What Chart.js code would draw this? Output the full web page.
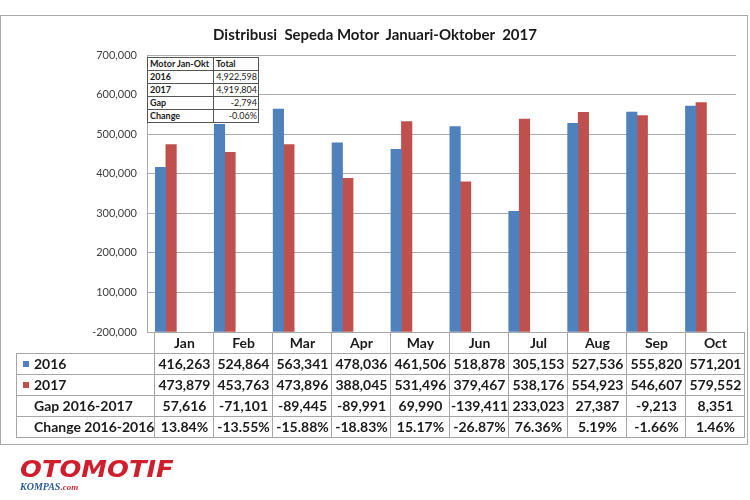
<!DOCTYPE html>
<html>
<head>
<meta charset="utf-8">
<script src="https://cdn.jsdelivr.net/npm/chart.js@4/dist/chart.umd.min.js"></script>
<style>
	html, body { margin: 0; padding: 0; background: #fff; }
	#page { position: relative; width: 750px; height: 500px; overflow: hidden; font-family: Lato, "Open Sans", sans-serif; color: #1a1a1a; }
	#frame { position: absolute; left: 0; top: 15px; width: 746px; height: 428px; border: 1px solid #a9a9a9; }
	#chart-box { position: absolute; left: 0; top: 0; width: 750px; height: 500px; }
	#title { position: absolute; left: 0; width: 750px; top: 25px; text-align: center; font-weight: bold; font-size: 15px; white-space: pre; }
	table { border-collapse: collapse; table-layout: fixed; }
	#summary { position: absolute; left: 147px; top: 57px; width: 112px; background: #fff; font-size: 9px; }
	#summary td { border: 1px solid #555; height: 12px; padding: 0 1px 0 2px; line-height: 12px; white-space: nowrap; }
	#summary td.k { font-weight: bold; width: 62px; }
	#summary td.v { text-align: right; }
	#summary td.h { font-weight: bold; text-align: left; }
	#data-table { position: absolute; left: 16px; top: 332px; font-size: 14px; font-weight: bold; }
	#data-table td { border: 1px solid #a6a6a6; height: 20px; padding: 0; text-align: center; line-height: 20px; white-space: nowrap; }
	#data-table td.lab { text-align: left; padding-left: 17px; width: 114px; position: relative; }
	#data-table td.blank { border: none; border-right: 1px solid #a6a6a6; }
	#data-table td.num { width: 58px; }
	.sq { position: absolute; left: 6px; top: 7px; width: 6px; height: 6px; }
	#logo { position: absolute; left: 20px; top: 456px; font-family: "DejaVu Sans", sans-serif; font-weight: bold; font-style: italic; font-size: 23px; color: #cf1f2e; transform: scaleX(1.12); transform-origin: left; }
	#kompas { position: absolute; left: 20px; top: 481px; font-family: "Liberation Serif", serif; font-weight: bold; font-style: italic; font-size: 10px; color: #2b5a9a; }
	#kompas span { color: #c8303a; font-size: 9px; }
</style>
</head>
<body>
<div id="page">
	<div id="frame"></div>
	<div id="chart-box"><canvas id="sales-chart"></canvas></div>
	<div id="title"></div>
	<table id="summary"></table>
	<table id="data-table"></table>
	<div id="logo">OTOMOTIF</div>
	<div id="kompas">KOMPAS<span>.com</span></div>
</div>
<script>
	const chartTitle = 'Distribusi  Sepeda Motor  Januari-Oktober  2017'
	const months = ['Jan', 'Feb', 'Mar', 'Apr', 'May', 'Jun', 'Jul', 'Aug', 'Sep', 'Oct']
	const sales2016 = [416263, 524864, 563341, 478036, 461506, 518878, 305153, 527536, 555820, 571201]
	const sales2017 = [473879, 453763, 473896, 388045, 531496, 379467, 538176, 554923, 546607, 579552]
	const gapRow = ['57,616', '-71,101', '-89,445', '-89,991', '69,990', '-139,411', '233,023', '27,387', '-9,213', '8,351']
	const changeRow = ['13.84%', '-13.55%', '-15.88%', '-18.83%', '15.17%', '-26.87%', '76.36%', '5.19%', '-1.66%', '1.46%']
	const yTickLabels = ['-200,000', '100,000', '200,000', '300,000', '400,000', '500,000', '600,000', '700,000']
	const summaryHead = ['Motor Jan-Okt', 'Total']
	const summaryLabels = ['2016', '2017', 'Gap', 'Change']
	const summaryValues = ['4,922,598', '4,919,804', '-2,794', '-0.06%']

	const blue = '#4f81bd'
	const red = '#c0504d'

	document.getElementById('title').textContent = chartTitle

	// small totals box in the top left of the plot
	;(function () {
		let html = `<tr><td class="k">${summaryHead[0]}</td><td class="h">${summaryHead[1]}</td></tr>`
		for (let i = 0; i < summaryLabels.length; ++i) {
			html += `<tr><td class="k">${summaryLabels[i]}</td><td class="v">${summaryValues[i]}</td></tr>`
		}
		document.getElementById('summary').innerHTML = html
	})()

	// data table under the bars
	;(function () {
		const fmt = v => v.toLocaleString('en-US')
		let html = '<tr><td class="blank lab"></td>' + months.map(m => `<td class="num">${m}</td>`).join('') + '</tr>'
		html += `<tr><td class="lab"><span class="sq" style="background:${blue}"></span>2016</td>` + sales2016.map(v => `<td>${fmt(v)}</td>`).join('') + '</tr>'
		html += `<tr><td class="lab"><span class="sq" style="background:${red}"></span>2017</td>` + sales2017.map(v => `<td>${fmt(v)}</td>`).join('') + '</tr>'
		html += '<tr><td class="lab">Gap 2016-2017</td>' + gapRow.map(v => `<td>${v}</td>`).join('') + '</tr>'
		html += '<tr><td class="lab">Change 2016-2016</td>' + changeRow.map(v => `<td>${v}</td>`).join('') + '</tr>'
		document.getElementById('data-table').innerHTML = html
	})()

	;(function () {
		const ctx = document.getElementById('sales-chart')
		new Chart(ctx, {
			type: 'bar',
			data: {
				labels: months,
				datasets: [
					{
						label: '2016',
						data: sales2016.map((v, i) => ({ x: i, y: v })),
						backgroundColor: blue,
					},
					{
						label: '2017',
						data: sales2017.map((v, i) => ({ x: i, y: v })),
						backgroundColor: red,
					},
				],
			},
			options: {
				responsive: true,
				maintainAspectRatio: false,
				animation: false,
				barThickness: 10.5,
				layout: { padding: { left: 0, top: 55, right: 14, bottom: 168 } },
				plugins: {
					legend: { display: false },
					tooltip: { enabled: false },
				},
				scales: {
					x: {
						type: 'linear',
						display: false,
						offset: false,
						grid: { offset: false },
						// Excel drew the bar pairs a bit left of the table columns
						min: -0.32,
						max: 9.68,
					},
					y: {
						min: 0,
						max: 700000,
						afterFit: s => { s.width = 147 },
						border: { display: true, color: '#a6a6a6' },
						grid: { color: '#ababab', drawTicks: false },
						ticks: {
							stepSize: 100000,
							padding: 10,
							color: '#404040',
							font: { family: 'Lato', size: 11 },
							callback: (v, i) => yTickLabels[i],
						},
					},
				},
			},
		})
	})()
</script>
</body>
</html>
